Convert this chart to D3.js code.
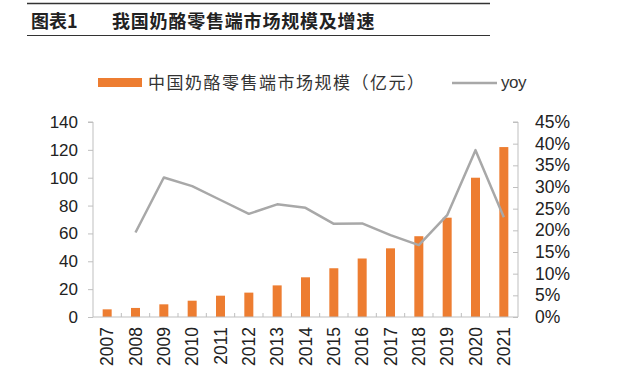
<!DOCTYPE html>
<html><head><meta charset="utf-8">
<script src="https://cdn.jsdelivr.net/npm/d3@7"></script>
<style>body{margin:0;background:#fff}svg{display:block}text{font-family:"Liberation Sans",Arial,sans-serif}</style>
</head><body><svg id="c" width="618" height="383"></svg>
<script>
const years = ["2007","2008","2009","2010","2011","2012","2013","2014","2015","2016","2017","2018","2019","2020","2021"];
const marketSize = [5.5,6.5,9.1,11.7,15.3,17.5,22.7,28.5,35,42,49.3,58,71.3,100,122];
const yoy = [null,19.5,32.2,30.2,27,23.8,26,25.2,21.5,21.6,18.9,16.6,23.5,38.5,23];
const leftTicks = [0,20,40,60,80,100,120,140];
const rightTicks = [0,0.05,0.10,0.15,0.20,0.25,0.30,0.35,0.40,0.45];
const titleLabel = "图表1";
const titleText = "我国奶酪零售端市场规模及增速";
const barName = "中国奶酪零售端市场规模（亿元）";
const lineName = "yoy";

const svg = d3.select("#c");
const cjk = '"Noto Sans CJK SC","Liberation Sans",sans-serif';
const orange = "#ED7D31", gray = "#A8A8A8", axisC = "#BFBFBF";

// title block
svg.append("line").attr("x1",27).attr("x2",490).attr("y1",3.5).attr("y2",3.5).attr("stroke","#333").attr("stroke-width",1.5);
svg.append("line").attr("x1",27).attr("x2",490).attr("y1",35.5).attr("y2",35.5).attr("stroke","#333").attr("stroke-width",1.2);
svg.append("text").attr("x",31).attr("y",27.5).style("font-family",cjk).style("font-weight","bold").style("font-size","18px").attr("fill","#222").text(titleLabel);
svg.append("text").attr("x",112).attr("y",27.5).style("font-family",cjk).style("font-weight","bold").style("font-size","18px").style("letter-spacing","0.8px").attr("fill","#222").text(titleText);

const L = 93, R = 518, T = 122, B = 317;
const xb = d3.scaleBand().domain(years).range([L,R]);
const yL = d3.scaleLinear().domain([0,140]).range([B,T]);
const yR = d3.scaleLinear().domain([0,0.45]).range([B,T]);

// bars
svg.append("g").selectAll("rect").data(years).join("rect")
  .attr("x",d=>xb(d)+xb.bandwidth()/2-4.5).attr("width",9)
  .attr("y",(d,i)=>yL(marketSize[i])).attr("height",(d,i)=>B-yL(marketSize[i]))
  .attr("fill",orange);

// left axis
const gl = svg.append("g").attr("transform",`translate(${L},0)`)
  .call(d3.axisLeft(yL).tickValues(leftTicks).tickSize(5).tickPadding(10));
gl.select(".domain").attr("stroke",axisC).attr("d",`M-5,${T}H0V${B}`);
gl.selectAll(".tick line").attr("stroke",axisC);
gl.selectAll("text").style("font-size","17px").attr("fill","#222");

// right axis
const gr = svg.append("g").attr("transform",`translate(${R},0)`)
  .call(d3.axisRight(yR).tickValues(rightTicks).tickFormat(d3.format(".0%")).tickSize(0).tickPadding(17));
gr.select(".domain").attr("stroke",axisC).attr("d",`M-5,${T}H0V${B}`);
gr.selectAll(".tick").append("line").attr("x1",-5).attr("x2",0).attr("stroke",axisC);
gr.selectAll("text").style("font-size","17.5px").attr("fill","#222");

// x axis
const gx = svg.append("g").attr("transform",`translate(0,${B})`);
gx.append("line").attr("x1",L).attr("x2",R).attr("stroke",axisC);
gx.selectAll("line.t").data(years.slice(1)).join("line").attr("class","t")
  .attr("x1",d=>xb(d)).attr("x2",d=>xb(d)).attr("y1",0).attr("y2",-4).attr("stroke",axisC);
gx.selectAll("text").data(years).join("text")
  .attr("transform",d=>`translate(${xb(d)+xb.bandwidth()/2+6},10) rotate(-90)`)
  .attr("text-anchor","end").style("font-size","17.5px").attr("fill","#222").text(d=>d);

// line
const line = d3.line().defined(d=>d!=null).x((d,i)=>xb(years[i])+xb.bandwidth()/2).y(d=>yR(d/100));
svg.append("path").datum(yoy).attr("d",line).attr("fill","none").attr("stroke",gray).attr("stroke-width",2.5).attr("stroke-linejoin","round");

// legend
svg.append("rect").attr("x",98).attr("y",78).attr("width",44).attr("height",9).attr("fill",orange);
svg.append("text").attr("x",148).attr("y",89).style("font-family",cjk).style("font-size","17px").style("letter-spacing","1.5px").attr("fill","#333").text(barName);
svg.append("line").attr("x1",452).attr("x2",497).attr("y1",83).attr("y2",83).attr("stroke",gray).attr("stroke-width",2.5);
svg.append("text").attr("x",501).attr("y",88).style("font-size","17px").style("letter-spacing","-0.5px").attr("fill","#333").text(lineName);
</script></body></html>
